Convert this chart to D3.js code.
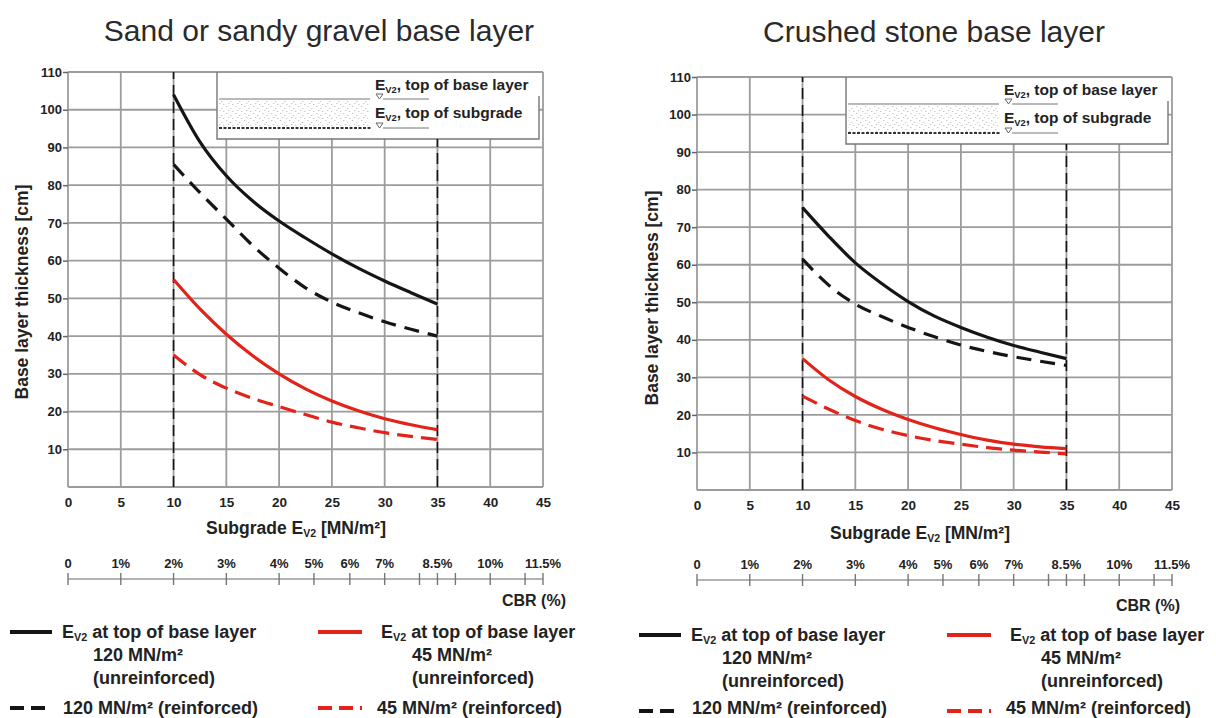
<!DOCTYPE html>
<html>
<head>
<meta charset="utf-8">
<script src="https://cdn.jsdelivr.net/npm/d3@7.9.0/dist/d3.min.js"></script>
<style>
  html, body { margin: 0; padding: 0; background: #fff; }
  svg { display: block; font-family: "Liberation Sans", Arial, sans-serif; }
</style>
</head>
<body>
<svg id="chart" width="1216" height="718"></svg>
<script>
// ---- data ----
const ev2 = [10, 12.5, 15, 17.5, 20, 22.5, 25, 27.5, 30, 32.5, 35];

// sand or sandy gravel base layer
const sandBlackSolid  = [104, 91.5, 82.5, 75.8, 70.5, 66, 61.8, 58, 54.6, 51.5, 48.5];
const sandBlackDashed = [85.5, 78, 71, 64, 58, 52.8, 49, 46.2, 43.8, 41.8, 40];
const sandRedSolid    = [55, 47.2, 40.5, 34.8, 30, 26, 22.8, 20.2, 18.1, 16.5, 15.2];
const sandRedDashed   = [35, 29.8, 26.2, 23.5, 21.3, 19.2, 17.2, 15.7, 14.4, 13.4, 12.6];

// crushed stone base layer
const stoneBlackSolid  = [75.2, 67.5, 60.5, 55, 50.2, 46.3, 43.3, 40.7, 38.5, 36.7, 35];
const stoneBlackDashed = [61.5, 54.5, 49.5, 46.2, 43.3, 40.8, 38.6, 36.9, 35.5, 34.3, 33.2];
const stoneRedSolid    = [35, 29.3, 24.9, 21.5, 18.8, 16.6, 14.8, 13.3, 12.2, 11.5, 11];
const stoneRedDashed   = [25, 21.5, 18.5, 16.2, 14.5, 13.2, 12.2, 11.3, 10.6, 10.1, 9.6];

const yTicks = [10, 20, 30, 40, 50, 60, 70, 80, 90, 100, 110];
const xTicks = [0, 5, 10, 15, 20, 25, 30, 35, 40, 45];
const boundaryEv2 = [10, 35];

// CBR scale below the chart: tick value and where it sits on the Ev2 axis
const cbrTicks  = [0, 1, 2, 3, 4, 5, 6, 7, 8, 8.5, 9, 10, 11, 11.5];
const cbrAtEv2  = [0, 5, 10, 15, 20, 23.3, 26.7, 30, 33.3, 35, 36.7, 40, 43.3, 45];
const cbrLabels = ['0', '1%', '2%', '3%', '4%', '5%', '6%', '7%', '', '8.5%', '', '10%', '', '11.5%'];

const titles = ['Sand or sandy gravel base layer', 'Crushed stone base layer'];

// ---- drawing ----
const BLACK = '#151515', RED = '#e2231a', GRID = '#9c9c9c', TXT = '#222';
const FONT = '"Liberation Sans", Arial, sans-serif';
const svg = d3.select('#chart');

const defs = svg.append('defs');
const pat = defs.append('pattern').attr('id', 'speckle')
  .attr('width', 9).attr('height', 7).attr('patternUnits', 'userSpaceOnUse');
[[1, 1], [5, 3], [3, 5], [7, 6]].forEach(([x, y]) =>
  pat.append('rect').attr('x', x).attr('y', y).attr('width', 1.4).attr('height', 1).attr('fill', '#c8c8c8'));

// text with a subscript "V2" after the leading E
function evText(sel, rest, size) {
  sel.append('tspan').text('E');
  sel.append('tspan').attr('font-size', size * 0.6).attr('dy', 3).text('V2');
  sel.append('tspan').attr('dy', -3).text(rest);
}

const panels = [
  { title: titles[0], tx: 319, ty: 41, x0: 68, x1: 543, yb: 487, yt: 72,
    xlab: [296, 534], ylab: [28, 292], cbrY: 579, cbrTitle: [566, 606], legY: 632,
    series: [sandBlackSolid, sandBlackDashed, sandRedSolid, sandRedDashed] },
  { title: titles[1], tx: 934, ty: 42, x0: 697, x1: 1172, yb: 490, yt: 77,
    xlab: [920, 539], ylab: [658, 298], cbrY: 580, cbrTitle: [1180, 611], legY: 635,
    series: [stoneBlackSolid, stoneBlackDashed, stoneRedSolid, stoneRedDashed] }
];

const styles = [
  { color: BLACK, dash: null },
  { color: BLACK, dash: '15,9' },
  { color: RED, dash: null },
  { color: RED, dash: '16,8' }
];

panels.forEach(p => {
  const x = d3.scaleLinear().domain([0, 45]).range([p.x0, p.x1]);
  const y = d3.scaleLinear().domain([0, 110]).range([p.yb, p.yt]);
  const g = svg.append('g');

  g.append('text').attr('x', p.tx).attr('y', p.ty).attr('text-anchor', 'middle')
    .attr('font-size', 30).attr('fill', '#2a2a2a').text(p.title);

  // grid
  const grid = g.append('g').attr('stroke', GRID).attr('stroke-width', 1.8);
  grid.selectAll('line.h').data([0].concat(yTicks)).join('line')
    .attr('x1', p.x0).attr('x2', p.x1).attr('y1', d => y(d)).attr('y2', d => y(d));
  grid.selectAll('line.v').data(xTicks).join('line')
    .attr('x1', d => x(d)).attr('x2', d => x(d)).attr('y1', y(0)).attr('y2', y(110));

  // y axis ticks + labels
  const yAxis = d3.axisLeft(y).tickValues(yTicks).tickSize(5).tickPadding(1);
  const ya = g.append('g').attr('transform', `translate(${p.x0},0)`).call(yAxis);
  ya.select('.domain').remove();
  ya.selectAll('line').attr('stroke', '#666').attr('stroke-width', 1.5);
  ya.selectAll('text').attr('font-size', 13).attr('font-weight', 'bold').attr('fill', TXT)
    .attr('font-family', FONT);

  const xAxis = d3.axisBottom(x).tickValues(xTicks).tickSize(0).tickPadding(10);
  const xa = g.append('g').attr('transform', `translate(0,${p.yb})`).call(xAxis);
  xa.select('.domain').remove();
  xa.selectAll('text').attr('font-size', 13.5).attr('font-weight', 'bold').attr('fill', TXT)
    .attr('font-family', FONT);

  // inset box with layer sketch
  const bx = p.x0 + 149, bw = 322, by = y(110), bh = 67;
  const box = g.append('g');
  box.append('rect').attr('x', bx).attr('y', by + 1).attr('width', bw).attr('height', bh - 1).attr('fill', '#fff');
  box.append('path').attr('fill', 'none').attr('stroke', '#777').attr('stroke-width', 1.4)
    .attr('d', `M${bx},${by}V${by + bh}H${bx + bw}V${by + 24}`);
  box.append('rect').attr('x', bx + 2).attr('y', by + 28).attr('width', 150).attr('height', 27).attr('fill', 'url(#speckle)');
  box.append('line').attr('x1', bx + 2).attr('x2', bx + 153).attr('y1', by + 27).attr('y2', by + 27)
    .attr('stroke', '#777').attr('stroke-width', 1.2);
  box.append('line').attr('x1', bx + 2).attr('x2', bx + 155).attr('y1', by + 56).attr('y2', by + 56)
    .attr('stroke', '#333').attr('stroke-width', 2.2).attr('stroke-dasharray', '3,1.5');
  [[by + 18, ', top of base layer', by + 27], [by + 46, ', top of subgrade', by + 56]].forEach(([ty, s, ly]) => {
    const t = box.append('text').attr('x', bx + 158).attr('y', ty).attr('font-size', 15.5)
      .attr('font-weight', 'bold').attr('fill', TXT);
    evText(t, s, 15.5);
    box.append('path').attr('fill', 'none').attr('stroke', '#555').attr('stroke-width', 0.9)
      .attr('d', `M${bx + 159},${ly - 5}h7l-3.5,5z`);
    box.append('line').attr('x1', bx + 166).attr('x2', bx + 212).attr('y1', ly).attr('y2', ly)
      .attr('stroke', '#777').attr('stroke-width', 1.1);
  });

  // vertical dashed boundaries at Ev2 = 10 and 35
  g.selectAll('line.bound').data(boundaryEv2).join('line')
    .attr('x1', d => x(d)).attr('x2', d => x(d))
    .attr('y1', y(0)).attr('y2', (d, i) => i === 0 ? y(110) : by + bh)
    .attr('stroke', BLACK).attr('stroke-width', 1.6).attr('stroke-dasharray', '11,6');

  // curves
  const line = d3.line().x((d, i) => x(ev2[i])).y(d => y(d)).curve(d3.curveMonotoneX);
  p.series.forEach((vals, k) => {
    g.append('path').attr('d', line(vals)).attr('fill', 'none')
      .attr('stroke', styles[k].color).attr('stroke-width', 3.2)
      .attr('stroke-dasharray', styles[k].dash);
  });

  // axis titles
  const xl = g.append('text').attr('x', p.xlab[0]).attr('y', p.xlab[1]).attr('text-anchor', 'middle')
    .attr('font-size', 17.5).attr('font-weight', 'bold').attr('fill', TXT);
  xl.append('tspan').text('Subgrade E');
  xl.append('tspan').attr('font-size', 10.5).attr('dy', 3).text('V2');
  xl.append('tspan').attr('dy', -3).text(' [MN/m²]');

  g.append('text').attr('transform', `translate(${p.ylab[0]},${p.ylab[1]}) rotate(-90)`)
    .attr('text-anchor', 'middle').attr('font-size', 17.5).attr('font-weight', 'bold').attr('fill', TXT)
    .text('Base layer thickness [cm]');

  // CBR scale
  const cbr = g.append('g');
  cbr.append('line').attr('x1', x(0)).attr('x2', x(45)).attr('y1', p.cbrY).attr('y2', p.cbrY)
    .attr('stroke', '#999').attr('stroke-width', 1.6);
  cbr.selectAll('line.t').data(cbrAtEv2).join('line')
    .attr('x1', d => x(d)).attr('x2', d => x(d)).attr('y1', p.cbrY - 6).attr('y2', p.cbrY + 6)
    .attr('stroke', '#777').attr('stroke-width', 1.4);
  cbr.selectAll('text').data(cbrTicks).join('text')
    .attr('x', (d, i) => x(cbrAtEv2[i])).attr('y', p.cbrY - 11).attr('text-anchor', 'middle')
    .attr('font-size', 13).attr('font-weight', 'bold').attr('fill', TXT)
    .text((d, i) => cbrLabels[i]);
  g.append('text').attr('x', p.cbrTitle[0]).attr('y', p.cbrTitle[1]).attr('text-anchor', 'end')
    .attr('font-size', 16).attr('font-weight', 'bold').attr('fill', TXT).text('CBR (%)');

  // legend
  const ly = p.legY, lg = g.append('g').attr('font-size', 18).attr('font-weight', 'bold').attr('fill', TXT);
  const rows = [
    { x1: p.x0 - 58, x2: p.x0 - 16, y: ly, st: styles[0], tx: p.x0 - 6 },
    { x1: p.x0 - 58, x2: p.x0 - 16, y: ly + 76, st: styles[1], tx: p.x0 - 5 },
    { x1: p.x0 + 250, x2: p.x0 + 294, y: ly, st: styles[2], tx: p.x0 + 313 },
    { x1: p.x0 + 250, x2: p.x0 + 294, y: ly + 76, st: styles[3], tx: p.x0 + 309 }
  ];
  rows.forEach((r, i) => {
    lg.append('line').attr('x1', r.x1).attr('x2', r.x2).attr('y1', r.y).attr('y2', r.y)
      .attr('stroke', r.st.color).attr('stroke-width', 3.8)
      .attr('stroke-dasharray', r.st.dash ? '14,7' : null);
    if (i === 0 || i === 2) {
      const t = lg.append('text').attr('x', r.tx).attr('y', r.y + 6);
      evText(t, ' at top of base layer', 18);
      lg.append('text').attr('x', r.tx + 31).attr('y', r.y + 29).text(i === 0 ? '120 MN/m²' : '45 MN/m²');
      lg.append('text').attr('x', r.tx + 31).attr('y', r.y + 52).text('(unreinforced)');
    } else {
      lg.append('text').attr('x', r.tx).attr('y', Math.min(r.y + 6, 714))
        .text(i === 1 ? '120 MN/m² (reinforced)' : '45 MN/m² (reinforced)');
    }
  });
});
</script>
</body>
</html>
